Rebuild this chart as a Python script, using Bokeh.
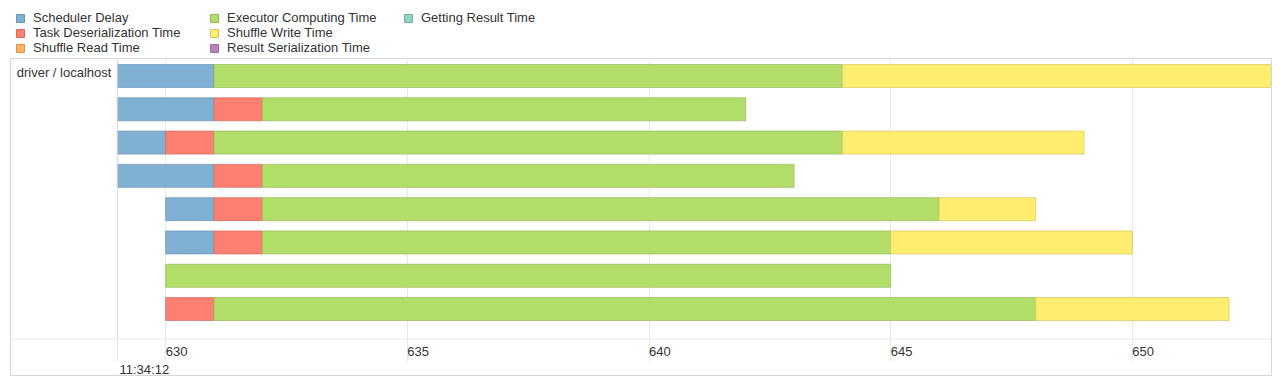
from bokeh.plotting import figure
from bokeh.models import (Range1d, FixedTicker, LinearAxis, Span, Label, Legend,
                          LegendItem, ColumnDataSource, Grid, Title)
from bokeh.layouts import column
from bokeh.embed import file_html
from bokeh.resources import INLINE

# ---- data (ms within 11:34:12) ----
row_ids = [1, 2, 3, 4, 5, 6, 7, 8]
launch_ms = [629, 629, 629, 629, 630, 630, 630, 630]
scheduler_delay = [2, 2, 1, 2, 1, 1, 0, 0]
task_deserialization = [0, 1, 1, 1, 1, 1, 0, 1]
shuffle_read = [0, 0, 0, 0, 0, 0, 0, 0]
executor_computing = [13, 10, 13, 11, 14, 13, 15, 17]
shuffle_write = [10, 0, 5, 0, 2, 5, 0, 4]
result_serialization = [0, 0, 0, 0, 0, 0, 0, 0]
getting_result = [0, 0, 0, 0, 0, 0, 0, 0]

tick_values = [630, 635, 640, 645, 650]
tick_labels = ["630", "635", "640", "645", "650"]
time_label = "11:34:12"
executor_label = "driver / localhost"

series_names = ["Scheduler Delay", "Task Deserialization Time", "Shuffle Read Time",
                "Executor Computing Time", "Shuffle Write Time",
                "Result Serialization Time", "Getting Result Time"]
series_values = [scheduler_delay, task_deserialization, shuffle_read,
                 executor_computing, shuffle_write, result_serialization, getting_result]
fills = ["#80B1D3", "#FB8072", "#FDB462", "#B3DE69", "#FFED6F", "#BC80BD", "#8DD3C7"]
strokes = ["#6B94B0", "#D26B5F", "#D39651", "#95B957", "#D5C65C", "#9D6B9E", "#75B0A6"]

FONT = "Liberation Sans"
TXT = "#333333"
BORDER = "#d6d6d6"
GRID = "#e8e8e8"

X0, X1 = 626.81, 652.92
Y_BOTTOM, Y_TOP = 8.916, 0.504

# ---- main timeline ----
p = figure(width=1262, height=318, output_backend="svg", toolbar_location=None,
           x_range=Range1d(X0, X1), y_range=Range1d(Y_BOTTOM, Y_TOP),
           min_border_left=0, min_border_right=0, min_border_top=0, min_border_bottom=38,
           x_axis_type=None, y_axis_type=None, outline_line_color=None,
           margin=(0, 0, 0, 10),
           styles={"border": "1px solid " + BORDER})
p.background_fill_color = "white"
p.border_fill_color = "white"

# stacked segments
left = list(launch_ms)
for name, vals, fc, sc in zip(series_names, series_values, fills, strokes):
    rows = [(r, l, l + v) for r, l, v in zip(row_ids, left, vals) if v > 0]
    if rows:
        src = ColumnDataSource(dict(y=[r[0] for r in rows], left=[r[1] for r in rows],
                                    right=[r[2] for r in rows]))
        p.hbar(y="y", left="left", right="right", height=0.69, source=src,
               fill_color=fc, line_color=sc, line_width=1, line_alpha=0.7)
    left = [l + v for l, v in zip(left, vals)]

# time axis: minor labels start at their tick
ax = LinearAxis(ticker=FixedTicker(ticks=[629] + tick_values),
                major_label_overrides={629: "", **{v: t for v, t in zip(tick_values, tick_labels)}})
ax.axis_line_color = None
ax.major_tick_line_color = GRID
ax.major_tick_out = 22
ax.major_tick_in = 0
ax.minor_tick_line_color = None
ax.major_label_orientation = -0.0001
ax.major_label_standoff = -10
ax.major_label_text_font = FONT
ax.major_label_text_font_size = "13px"
ax.major_label_text_color = TXT
p.add_layout(ax, "below")

# major time label (date part) under the minor labels
p.add_layout(Title(text=time_label, align="left", offset=108, standoff=-8,
                   text_font=FONT, text_font_size="13px", text_font_style="normal",
                   text_color=TXT), "below")

g = Grid(dimension=0, ticker=FixedTicker(ticks=tick_values), grid_line_color=GRID)
p.add_layout(g)

# panel separators
p.add_layout(Span(location=629, dimension="height", line_color=BORDER, line_width=1))
p.add_layout(Span(location=Y_BOTTOM, dimension="width", line_color=GRID, line_width=2))
p.add_layout(Label(x=629, y=0.894, x_offset=-6, text=executor_label, text_align="right",
                   text_baseline="middle", text_font=FONT, text_font_size="13px",
                   text_color=TXT))

# ---- legend ----
lf = figure(width=1264, height=50, output_backend="svg", toolbar_location=None,
            x_axis_type=None, y_axis_type=None, outline_line_color=None,
            min_border=0, x_range=Range1d(0, 1), y_range=Range1d(0, 1),
            margin=(8, 0, 0, 8))
lf.grid.visible = False
items = []
for name, fc, sc in zip(series_names, fills, strokes):
    # swatch-only renderer (its single box lies outside the visible range)
    r = lf.quad(left=[5], right=[6], top=[6], bottom=[5], fill_color=fc, line_color=sc)
    items.append(LegendItem(label=name, renderers=[r]))
leg = Legend(items=items, location=(7, 3), orientation="vertical", nrows=3,
             glyph_width=10, glyph_height=10, label_standoff=8, label_height=14,
             label_width=176, spacing=0, padding=0, margin=0,
             border_line_color=None, background_fill_alpha=0,
             label_text_font=FONT, label_text_font_size="13px", label_text_color=TXT)
lf.add_layout(leg, "center")

layout = column(lf, p, spacing=0)
open("out.html", "w").write(file_html(layout, INLINE))
